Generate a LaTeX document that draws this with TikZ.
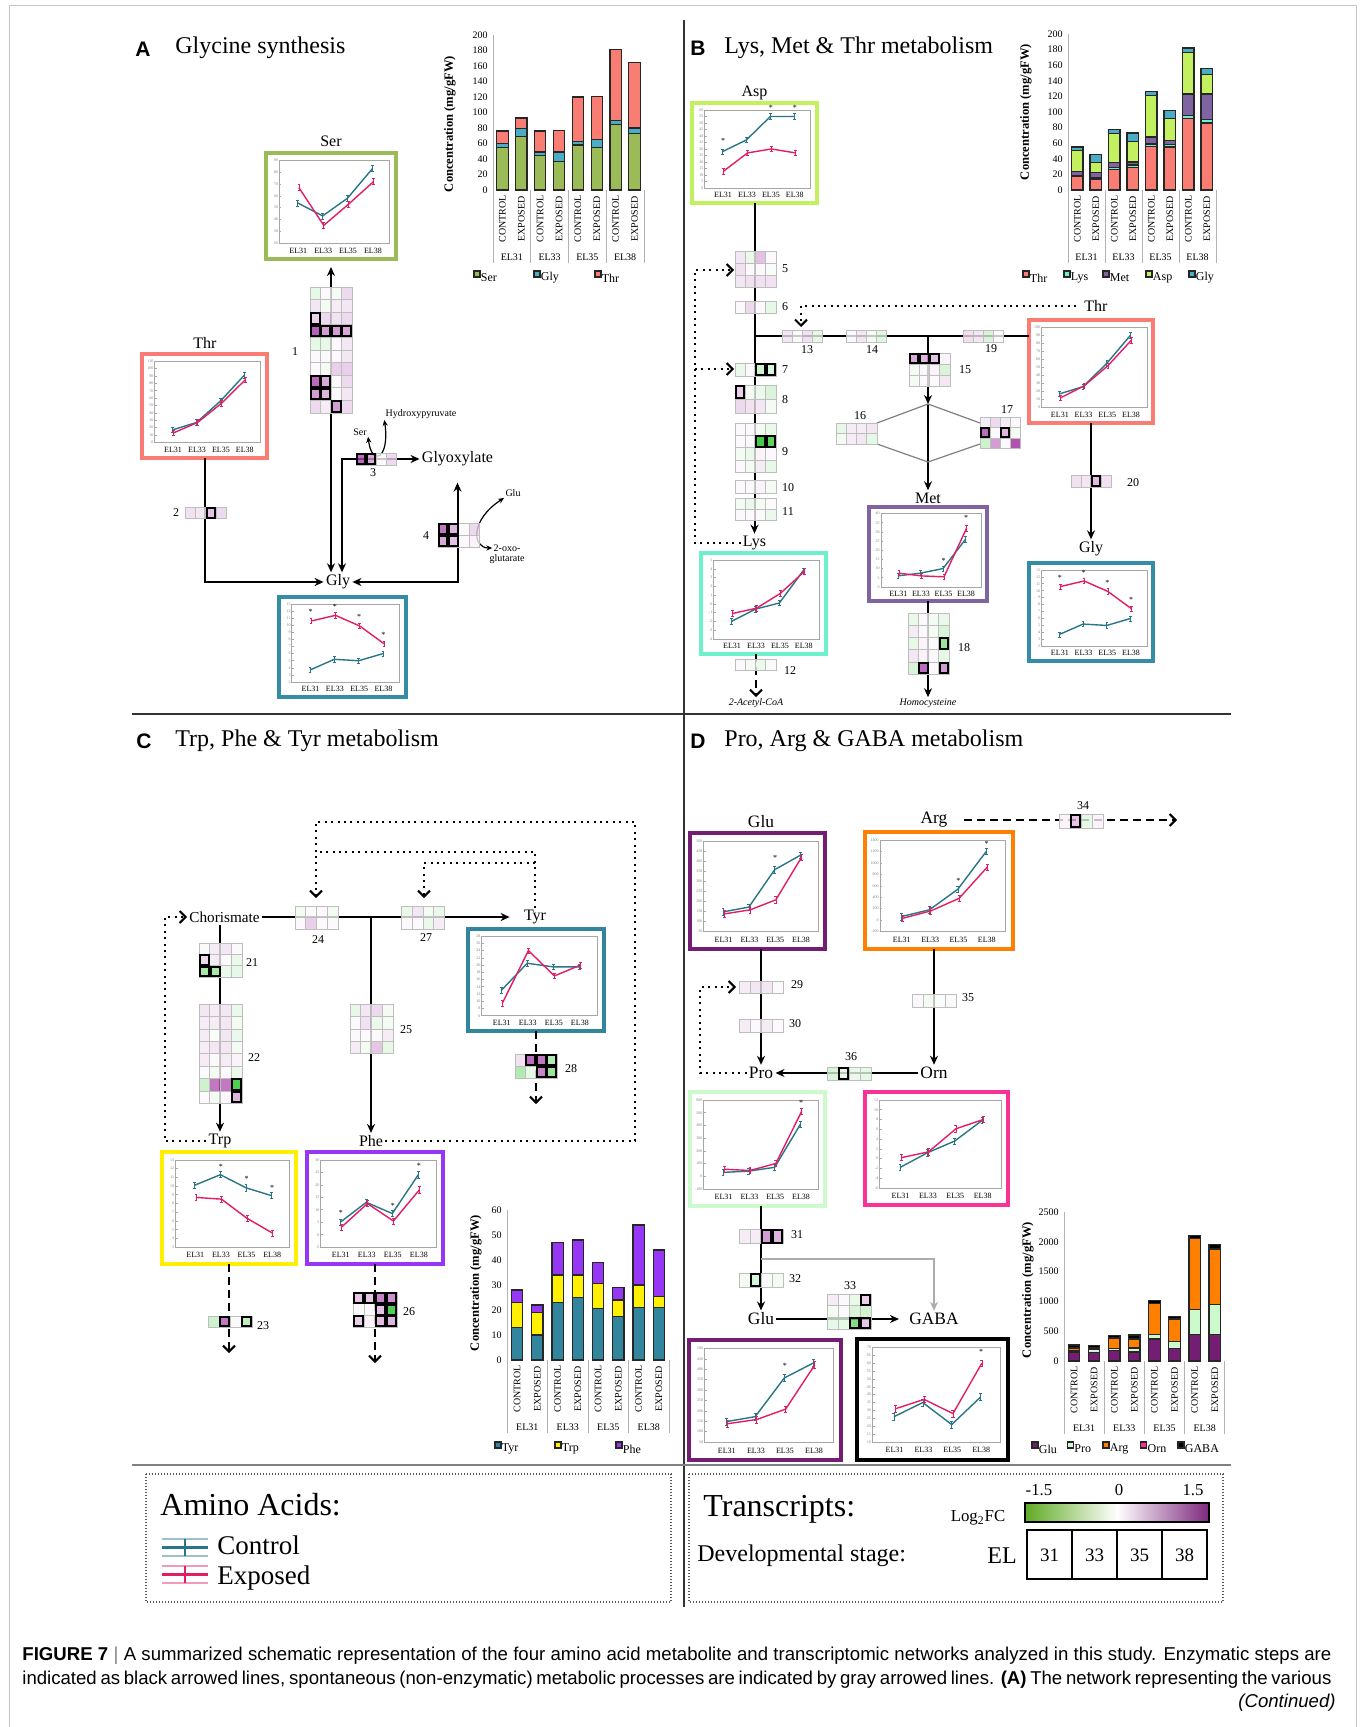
\documentclass[tikz,border=0pt]{standalone}
\usepackage{fontspec}
\setmainfont{Liberation Serif}
\newfontfamily\panelfont{Liberation Sans}
\usetikzlibrary{arrows.meta}

\definecolor{serc}{RGB}{155,187,89}
\definecolor{glyc}{RGB}{75,172,198}
\definecolor{glyframe}{RGB}{52,140,165}
\definecolor{thrc}{RGB}{250,125,115}
\definecolor{aspc}{RGB}{195,240,95}
\definecolor{lysc}{RGB}{110,240,205}
\definecolor{metc}{RGB}{128,100,162}
\definecolor{tyrc}{RGB}{49,133,156}
\definecolor{trpc}{RGB}{255,240,0}
\definecolor{phec}{RGB}{150,55,245}
\definecolor{gluc}{RGB}{115,30,115}
\definecolor{proc}{RGB}{205,250,205}
\definecolor{argc}{RGB}{255,128,0}
\definecolor{ornc}{RGB}{250,50,150}
\definecolor{ctrlc}{RGB}{40,118,135}
\definecolor{expc}{RGB}{225,30,100}
\definecolor{hpos}{RGB}{150,25,150}
\definecolor{hneg}{RGB}{20,190,20}
\definecolor{gradneg}{RGB}{95,170,35}
\definecolor{gradpos}{RGB}{125,40,125}
\definecolor{cellgray}{RGB}{190,190,190}

% helpers for the small line charts
\def\getbox#1/#2/#3/#4\relax{\def\bxl{#1}\def\bxt{#2}\def\bxr{#3}\def\bxb{#4}}
\def\getyr#1/#2/#3\relax{\def\ymn{#1}\def\ymx{#2}\def\ystp{#3}}

\newcommand{\series}[3]{%
  \foreach \sv [count=\sk] in {#1} {
    \pgfmathsetmacro{\sx}{#2+0.225*(\sk-1)}
    \coordinate (sp\sk) at (\sx,\sv);
    \draw[#3, line width=0.3pt] (\sx-0.012,\sv-\eb) -- (\sx+0.012,\sv-\eb)
      (\sx,\sv-\eb) -- (\sx,\sv+\eb) (\sx-0.012,\sv+\eb) -- (\sx+0.012,\sv+\eb);
  }
  \draw[#3] (sp1) -- (sp2) -- (sp3) -- (sp4);
}

% name, box l/t/r/b, frame colour, ymin/ymax/step, control, exposed, stars
\newcommand{\lchart}[7]{%
  \getbox#2\relax\getyr#4\relax
  \pgfmathsetmacro{\bw}{0.5*(\bxr-\bxl)}
  \pgfmathsetmacro{\bh}{0.5*(\bxb-\bxt)}
  \node[chartbox, draw=#3, minimum width=\bw pt, minimum height=\bh pt]
    (#1) at ({(\bxl+\bxr)/2},{(\bxt+\bxb)/2}) {};
  \pgfmathsetmacro{\pl}{\bxl+0.1*(\bxr-\bxl)}
  \pgfmathsetmacro{\pr}{\bxr-0.05*(\bxr-\bxl)}
  \pgfmathsetmacro{\ptp}{\bxt+0.07*(\bxb-\bxt)}
  \pgfmathsetmacro{\pbt}{\bxb-0.15*(\bxb-\bxt)}
  \draw[plotframe] (\pl,\ptp) rectangle (\pr,\pbt);
  \foreach \el [count=\ek] in {EL31,EL33,EL35,EL38}
    \node[ellab] at ({\pl+(0.175+0.225*(\ek-1))*(\pr-\pl)},{\pbt+0.07*(\bxb-\bxt)}) {\el};
  \pgfmathsetmacro{\xu}{0.5*(\pr-\pl)}
  \pgfmathsetmacro{\yu}{0.5*(\pbt-\ptp)/(\ymx-\ymn)}
  \pgfmathsetmacro{\ysec}{\ymn+\ystp}
  \pgfmathsetmacro{\eb}{0.035*(\ymx-\ymn)}
  \begin{scope}[shift={(\pl,\pbt)}, x=\xu pt, y=\yu pt, shift={(0,{0-(\ymn)})}]
    \foreach \tk in {\ymn,\ysec,...,\ymx} {
      \pgfmathtruncatemacro{\tlab}{round(\tk)}
      \draw[plotframe] (0,\tk) -- (0.02,\tk);
      \node[ticklab] at (0,\tk) {\tlab};
    }
    \series{#5}{0.17}{ctrlline}
    \series{#6}{0.18}{expline}
    \foreach \sk/\sv in {#7} {
      \ifnum\sk>0 \node[starlab] at ({0.175+0.225*(\sk-1)},\sv) {*};\fi
    }
  \end{scope}
}

% heat map: x, y, cell width, cell height, rows (bold cell = value+10)
\newcommand{\hmap}[5]{%
  \foreach \hrow [count=\hr] in {#5} {
    \foreach \hv [count=\hc] in \hrow {
      \pgfmathsetmacro{\vv}{\hv>5 ? \hv-10 : \hv}
      \pgfmathtruncatemacro{\pc}{min(100,abs(\vv)*66.7)}
      \pgfmathtruncatemacro{\sg}{\vv<0 ? 1 : 0}
      \ifnum\sg=1 \colorlet{cellc}{hneg!\pc!white}\else\colorlet{cellc}{hpos!\pc!white}\fi
      \draw[hcell, fill=cellc] ({#1+(\hc-1)*#3},{#2+(\hr-1)*#4}) rectangle ++(#3,#4);
    }
  }
  \foreach \hrow [count=\hr] in {#5} {
    \foreach \hv [count=\hc] in \hrow {
      \pgfmathtruncatemacro{\isb}{\hv>5 ? 1 : 0}
      \ifnum\isb=1 \draw[hbold] ({#1+(\hc-1)*#3+0.9},{#2+(\hr-1)*#4+0.9}) rectangle ++({#3-1.8},{#4-1.8});\fi
    }
  }
}

% stacked bar charts
\newcommand{\barbase}[6]{%
  \draw[baraxis] (#1,#2) -- (#1,{#2-#5*#4});
  \foreach \tk in {0,#6,...,#5}
    \node[barlab, anchor=east] at ({#1-4},{#2-\tk*#4}) {\tk};
  \foreach \gi in {0,...,4}
    \draw[baraxis] ({#1+\gi*#3},#2) -- ({#1+\gi*#3},{#2+73});
  \foreach \gl [count=\gi] in {EL31,EL33,EL35,EL38} {
    \node[barlab, rotate=90] at ({#1+(\gi-0.75)*#3},{#2+29}) {CONTROL};
    \node[barlab, rotate=90] at ({#1+(\gi-0.25)*#3},{#2+29}) {EXPOSED};
    \node[barlab] at ({#1+(\gi-0.5)*#3},{#2+67}) {\gl};
  }
}
\newcommand{\bars}[5]{%
  \foreach \bdat [count=\bj] in {#5} {
    \foreach \tp/\cl [remember=\tp as \lastp (initially 0)] in \bdat {
      \draw[barseg, fill=\cl] ({#1+(\bj-0.5)*#3/2-5.7},{#2-\lastp*#4}) rectangle ({#1+(\bj-0.5)*#3/2+5.7},{#2-\tp*#4});
    }
  }
}

\begin{document}
\begin{tikzpicture}[x=0.5pt,y=-0.5pt]
  \tikzstyle{plabel}=[font=\panelfont\bfseries\fontsize{10.5}{12}\selectfont, inner sep=0pt]
  \tikzstyle{ptitle}=[font=\fontsize{12}{14}\selectfont, inner sep=0pt]
  \tikzstyle{metab}=[font=\fontsize{8}{9}\selectfont, inner sep=1pt]
  \tikzstyle{metabC}=[font=\fontsize{7.6}{9}\selectfont, inner sep=1pt]
  \tikzstyle{metabD}=[font=\fontsize{8.7}{10}\selectfont, inner sep=1pt]
  \tikzstyle{genel}=[font=\fontsize{6}{7}\selectfont, inner sep=0pt]
  \tikzstyle{small}=[font=\fontsize{5}{6}\selectfont, inner sep=0.5pt]
  \tikzstyle{smallit}=[font=\itshape\fontsize{5}{6}\selectfont, inner sep=0.5pt]
  \tikzstyle{enz}=[line width=1pt, >={Stealth[length=4.5pt,width=4pt]}]
  \tikzstyle{enzthin}=[line width=0.6pt, >={Stealth[length=3pt,width=2.6pt]}]
  \tikzstyle{nonenz}=[enz, draw=gray!65]
  \tikzstyle{spont}=[line width=1pt, dash pattern=on 1pt off 2.2pt, >={Straight Barb[length=3pt]}]
  \tikzstyle{dashedarr}=[line width=1pt, dash pattern=on 4pt off 2.5pt, >={Straight Barb[length=3pt]}]
  \tikzstyle{chartbox}=[inner sep=0pt, outer sep=0pt, line width=1.8pt, fill=white]
  \tikzstyle{plotframe}=[draw=gray!70, line width=0.3pt]
  \tikzstyle{ellab}=[font=\fontsize{4}{4}\selectfont, inner sep=0pt]
  \tikzstyle{ticklab}=[font=\fontsize{2}{2}\selectfont, inner sep=0.4pt, anchor=east, text=gray]
  \tikzstyle{ctrlline}=[draw=ctrlc, line width=0.7pt]
  \tikzstyle{expline}=[draw=expc, line width=0.7pt]
  \tikzstyle{starlab}=[font=\fontsize{4}{4}\selectfont, inner sep=0pt, anchor=south]
  \tikzstyle{hcell}=[draw=cellgray, line width=0.3pt, fill opacity=0.8]
  \tikzstyle{hbold}=[draw=black, line width=1pt]
  \tikzstyle{baraxis}=[draw=gray!60, line width=0.5pt]
  \tikzstyle{barlab}=[font=\fontsize{5}{6}\selectfont, inner sep=0.5pt]
  \tikzstyle{barseg}=[draw=black!85, line width=0.6pt]
  \tikzstyle{barleg}=[font=\fontsize{6}{7}\selectfont, inner sep=0.5pt]
  \tikzstyle{bartitle}=[font=\bfseries\fontsize{6.3}{7}\selectfont, inner sep=0pt]
  \tikzstyle{legbox}=[line width=0.6pt, dash pattern=on 0.5pt off 1pt, draw=gray!70!black]
  \tikzstyle{legtitle}=[font=\fontsize{16}{18}\selectfont, inner sep=0pt]
  \tikzstyle{legtext}=[font=\fontsize{12}{14}\selectfont, inner sep=0pt]
  \tikzstyle{legsmall}=[font=\fontsize{8.4}{10}\selectfont, inner sep=0pt]
  \tikzstyle{capt}=[font=\panelfont\fontsize{9.3}{12}\selectfont, inner sep=0pt]
  \tikzstyle{divider}=[draw=black!80, line width=0.7pt]

  \useasboundingbox (0,0) rectangle (1365,1727);
  \fill[white] (0,0) rectangle (1365,1727);
  \draw[gray!45, line width=0.5pt] (9,1727) -- (9,6) -- (1356,6) -- (1356,1727);

  %dividers
  \draw[divider] (684,20) -- (684,1607);
  \draw[divider] (132,714) -- (1231,714);
  \draw[gray, line width=1.2pt] (132,1465) -- (1231,1465);

  %panel_A
  \node[plabel] (labA) at (143,49) {A};
  \node[ptitle, anchor=west] (titA) at (175,48) {Glycine synthesis};

  \barbase{493}{190}{37.75}{0.775}{200}{20}
  \bars{493}{190}{37.75}{0.775}{{55/serc,60/glyc,76/thrc},{69/serc,79/glyc,93/thrc},{44/serc,49/glyc,76/thrc},{37/serc,49/glyc,77/thrc},{58/serc,63/glyc,120/thrc},{55/serc,65/glyc,121/thrc},{85/serc,90/glyc,181/thrc},{73/serc,80/glyc,165/thrc}}
  \node[bartitle, rotate=90] (ytA) at (450,124) {Concentration (mg/gFW)};
  \foreach \lx/\cl/\nm in {474/serc/Ser,534/glyc/Gly,595/thrc/Thr} {
    \draw[barseg, fill=\cl] (\lx,271) rectangle +(6,6);
    \node[barleg, anchor=west] at (\lx+5.5,278) {\nm};
  }

  \node[metab] (serA) at (331,141) {Ser};
  \lchart{serbox}{266/153/396/259}{serc}{20/90/10}{54,43,58,83}{67,35,53,72}{0/0}
  \node[metab] (thrA) at (205,343) {Thr};
  \lchart{thrboxA}{142/354/267/458}{thrc}{0/110/10}{17,27,56,91}{13,27,53,85}{0/0}
  \node[metab] (glyA) at (338,582) {Gly};
  \lchart{glyboxA}{279/597/406/697}{glyframe}{2/13/1}{3.7,5.2,5.0,6.0}{10.6,11.4,9.9,7.4}{1/11.4,2/12.2,3/10.7,4/8.2}
  \node[metab] (glx) at (457.5,459) {Glyoxylate};
  \coordinate (g3turn) at (342,459);

  \draw[enz,<->, shorten <=4pt] (serbox.south) -- (serbox.south |- glyA.north);
  \draw[enz,<->] (glx.west) -- (g3turn) -- (g3turn |- glyA.north);
  \draw[enz,->] (thrboxA.south) |- (glyA.west);
  \draw[enz,<->, shorten <=7pt] (glx.south) |- (glyA.east);

  \node[small] (serS) at (360,432) {Ser};
  \node[small] (hpyr) at (421,414) {Hydroxypyruvate};
  \draw[enzthin,<->] (serS.south east) .. controls (372,468) and (390,458) .. (hpyr.south west);
  \node[small] (gluS) at (513,493) {Glu};
  \node[small] (oxo1) at (507,548) {2-oxo-};
  \node[small] (oxo2) at (507,559) {glutarate};
  \draw[enzthin,<->] (gluS.south west) .. controls (470,520) and (472,548) .. (oxo1.west);

  %genes_A
  \hmap{310}{287}{10.5}{12.6}{{-0.2,0.05,-0.1,0.3},{0.2,-0.1,0.15,0.2},{10.35,0.3,0.25,0.3},{11.3,10.8,10.8,10.7},{-0.2,-0.2,0.05,0.2},{0.05,0.05,0.05,0.2},{0.05,-0.1,0.4,0.4},{11.2,10.7,0.05,0.3},{10.8,10.6,0.05,0.2},{0.3,0.15,10.8,0.3}}
  \node[genel] (n1) at (295,352) {1};
  \hmap{185}{507}{10.3}{11.5}{{0.25,0.2,10.5,0.3}}
  \node[genel] (n2) at (176,513) {2};
  \hmap{356}{453}{10}{12}{{11.2,10.7,0.05,0.3}}
  \node[genel] (n3) at (373,473) {3};
  \hmap{438}{523}{10.3}{12}{{11.1,10.6,0.05,0.3},{10.7,10.5,0.05,0.1}}
  \node[genel] (n4) at (426,536) {4};

  %panel_B
  \node[plabel] (labB) at (698,48) {B};
  \node[ptitle, anchor=west] (titB) at (724,48) {Lys, Met \& Thr metabolism};

  \barbase{1068}{190}{37}{0.78}{200}{20}
  \bars{1068}{190}{37}{0.78}{{17/thrc,19/lysc,24/metc,51/aspc,55/glyc},{14/thrc,16/lysc,22/metc,35/aspc,46/glyc},{26/thrc,29/lysc,35/metc,72/aspc,78/glyc},{29/thrc,32/lysc,36/metc,62/aspc,73/glyc},{56/thrc,59/lysc,68/metc,121/aspc,126/glyc},{55/thrc,58/lysc,63/metc,92/aspc,102/glyc},{92/thrc,96/lysc,123/metc,176/aspc,182/glyc},{86/thrc,90/lysc,123/metc,148/aspc,156/glyc}}
  \node[bartitle, rotate=90] (ytB) at (1026,112) {Concentration (mg/gFW)};
  \foreach \lx/\cl/\nm in {1023/thrc/Thr,1064/lysc/Lys,1103/metc/Met,1146/aspc/Asp,1189/glyc/Gly} {
    \draw[barseg, fill=\cl] (\lx,271) rectangle +(6,6);
    \node[barleg, anchor=west] at (\lx+5.5,278) {\nm};
  }

  \node[metab] (aspB) at (754.5,93) {Asp};
  \lchart{aspbox}{692/103/817/203}{aspc}{0/60/5}{28,37,55,55}{13,27,30,27}{1/34,3/59,4/59}
  \node[metab] (lysB) at (754.5,543) {Lys};
  \lchart{lysbox}{701/553/826/654}{lysc}{-4/5/1}{-2,-0.6,0.1,3.8}{-1.1,-0.5,1.2,3.7}{0/0}
  \node[metab] (thrB) at (1096,306) {Thr};
  \lchart{thrboxB}{1029/320/1153/423}{thrc}{0/100/10}{17,26,55,90}{12,27,52,84}{0/0}
  \node[metab] (metB) at (928,498) {Met};
  \lchart{metbox}{869/507/987/601}{metc}{0/40/5}{6,7.5,10,26}{7.5,6,5.5,32}{3/12.5,4/36}
  \node[metab] (glyB) at (1091,549) {Gly};
  \lchart{glyboxB}{1029/563/1153/661}{glyframe}{2/13/1}{3.7,5.2,5.0,6.0}{10.6,11.4,9.9,7.4}{1/11.4,2/12.2,3/10.7,4/8.2}
  \node[smallit] (acoa) at (756,703) {2-Acetyl-CoA};
  \node[smallit] (hcys) at (928,703) {Homocysteine};

  \coordinate (bj13) at (754.5,336);
  \coordinate (bj15) at (928,336);
  \coordinate (diat) at (928,404);
  \coordinate (diab) at (928,462);
  \draw[enz,->] (aspbox.south) -- (lysB.north);
  \draw[enz] (bj13) -- (bj13 -| thrboxB.west);
  \draw[enz,->] (bj15) -- (diat);
  \draw[enz,->] (diat) -- (metB.north);
  \draw[gray, line width=0.6pt] (877,423) -- (diat) -- (980,423);
  \draw[gray, line width=0.6pt] (877,444) -- (diab) -- (980,444);
  \draw[enz,->] (thrboxB.south) -- (glyB.north);
  \draw[enz,->] (metbox.south) -- (hcys.north);
  \draw[dashedarr,->] (lysbox.south -| acoa.north) -- (acoa.north);
  \draw[spont,->] (lysB.west) -| (695,270) -- (734,270);
  \draw[spont,->] (695,369) -- (734,369);
  \draw[spont,->, shorten <=3pt] (thrB.west) -| (801,327);

  %genes_B
  \hmap{735}{251}{10.2}{12}{{0.2,-0.15,0.5,0.05},{0.25,0.05,0.05,-0.05},{0.2,0.25,0.25,0.25}}
  \node[genel] (n5) at (785,269) {5};
  \hmap{735}{301}{10.2}{12}{{0.05,0.3,0.05,-0.2}}
  \node[genel] (n6) at (785,307) {6};
  \hmap{735}{363}{10.2}{13}{{-0.15,0.05,9.6,9.7}}
  \node[genel] (n7) at (785,370) {7};
  \hmap{735}{385}{10.2}{14}{{10.4,-0.1,-0.15,-0.3},{0.3,0.25,0.2,-0.1}}
  \node[genel] (n8) at (785,400) {8};
  \hmap{735}{423}{10.2}{12.4}{{0.05,0.05,-0.1,-0.15},{0.05,0.05,8.5,8.7},{-0.1,-0.15,0.1,0.05},{0.05,-0.1,0.15,-0.2}}
  \node[genel] (n9) at (785,452) {9};
  \hmap{735}{480}{10.2}{13}{{0.05,0.05,0.1,-0.1}}
  \node[genel] (n10) at (788,488) {10};
  \hmap{735}{498}{10.2}{11}{{-0.1,-0.15,-0.1,0.05},{0.05,0.05,0.05,-0.15}}
  \node[genel] (n11) at (788,512) {11};
  \hmap{735}{659}{10.2}{11}{{0.05,-0.1,-0.15,0.05}}
  \node[genel] (n12) at (790,671) {12};
  \hmap{782}{330}{10}{12}{{0.2,-0.05,0.25,-0.2}}
  \node[genel] (n13) at (807,350) {13};
  \hmap{846}{330}{10}{12}{{0.05,0.2,-0.1,-0.25}}
  \node[genel] (n14) at (872,350) {14};
  \hmap{963}{330}{10}{12}{{0.25,0.2,-0.3,0.05}}
  \node[genel] (n19) at (991,349) {19};
  \hmap{909}{353}{10.2}{11}{{10.7,10.6,10.5,0.1},{-0.1,0.05,0.1,-0.3},{-0.1,0.05,0.05,0.2}}
  \node[genel] (n15) at (965,370) {15};
  \hmap{836}{423}{10.2}{10.5}{{-0.2,0.15,0.15,0.2},{-0.1,0.15,0.2,-0.2}}
  \node[genel] (n16) at (860,416) {16};
  \hmap{980}{417}{10}{10.5}{{0.15,0.3,0.15,0.05},{11.2,0.05,10.6,-0.1},{-0.4,0.8,0.05,1.4}}
  \node[genel] (n17) at (1007,410) {17};
  \hmap{908}{613}{10.2}{12.2}{{-0.15,0.05,-0.1,-0.15},{0.15,0.05,-0.1,-0.3},{-0.2,0.1,0.05,9.2},{0.2,0.1,0.05,-0.2},{-0.3,11.2,0.05,10.8}}
  \node[genel] (n18) at (964,648) {18};
  \hmap{1071}{475}{10}{12}{{0.25,0.2,10.55,0.25}}
  \node[genel] (n20) at (1133,483) {20};

  %panel_C
  \node[plabel] (labC) at (144,741) {C};
  \node[ptitle, anchor=west] (titC) at (175,741) {Trp, Phe \& Tyr metabolism};

  \node[metabC] (chor) at (224.5,917) {Chorismate};
  \node[metab] (tyrC) at (535,917) {Tyr};
  \node[metab] (trpC) at (220,1141) {Trp};
  \node[metab] (pheC) at (371,1141) {Phe};
  \coordinate (cj25) at (371,917);
  \coordinate (tyrloop) at (535,863);
  \draw[enz,->, shorten >=6pt] (chor.east) -- (tyrC.west);
  \draw[enz,->] (chor.south -| trpC.north) -- (trpC.north);
  \draw[enz,->] (cj25) -- (pheC.north);
  \draw[spont,->] (trpC.west) -| (165,917) -- (chor.west);
  \draw[spont,->] (pheC.east) -| (635,822) -| (316,898);
  \draw[spont] (tyrC.north) |- (316,852);
  \draw[spont,->] (tyrloop) -| (424,898);

  \lchart{tyrbox}{468/929/604/1031}{tyrc}{6/28/2}{13,20.5,19.5,19.5}{9.5,24,17,20}{0/0}
  \lchart{trpbox}{162/1152/296/1264}{trpc}{3/13/1}{10.1,11.3,9.8,8.9}{8.7,8.5,6.3,4.6}{2/11.9,3/10.5,4/9.5}
  \lchart{phebox}{307/1152/443/1264}{phec}{-5/30/5}{5,13,8.5,24}{3,12.5,5.5,18}{1/7.5,3/10.5,4/26.5}
  \coordinate (tyrend) at (536,1104);
  \coordinate (trpend) at (229,1353);
  \coordinate (pheend) at (375,1363);
  \draw[dashedarr,->] (tyrbox.south) -- (tyrend);
  \draw[dashedarr,->] (trpbox.south) -- (trpend);
  \draw[dashedarr,->] (phebox.south) -- (pheend);

  %genes_C
  \hmap{199}{943}{10.75}{11.3}{{0.05,0.15,0.2,0.05},{10.3,0.15,0.05,-0.15},{9.3,9.3,-0.15,-0.2}}
  \node[genel] (n21) at (252,963) {21};
  \hmap{199}{1004}{10.75}{12.4}{{0.2,0.15,0.2,-0.15},{0.15,0.15,0.2,-0.1},{0.15,-0.05,0.2,-0.15},{0.15,0.2,0.2,-0.1},{0.15,0.05,0.15,0.1},{0.05,-0.1,0.05,-0.15},{-0.4,1.1,1.1,8.6},{0.05,-0.1,0.05,10.6}}
  \node[genel] (n22) at (254,1058) {22};
  \hmap{295}{906}{10.75}{11.5}{{-0.1,0.05,0.05,-0.1},{0.05,0.4,0.05,0.05}}
  \node[genel] (n24) at (318,940) {24};
  \hmap{401}{906}{10.9}{11.5}{{-0.15,0.2,-0.1,-0.15},{0.05,0.05,-0.15,0.15}}
  \node[genel] (n27) at (426,938) {27};
  \hmap{350}{1004}{10.75}{12.4}{{-0.2,0.2,0.3,-0.1},{0.05,0.25,-0.15,-0.1},{0.05,0.05,0.05,0.15},{0.15,-0.1,0.45,-0.2}}
  \node[genel] (n25) at (406,1030) {25};
  \hmap{515}{1054}{10.5}{12}{{0.25,11.2,11.1,9.4},{-0.6,-0.2,11.0,9.2}}
  \node[genel] (n28) at (571,1069) {28};
  \hmap{208}{1316}{11}{11}{{-0.4,11.1,0.05,9.5}}
  \node[genel] (n23) at (263,1326) {23};
  \hmap{353}{1292}{11}{11.7}{{10.45,10.45,11.0,10.9},{0.05,0.05,10.5,8.6},{10.4,0.1,10.55,10.6}}
  \node[genel] (n26) at (409,1312) {26};

  \barbase{507}{1360}{40.5}{2.5}{60}{10}
  \bars{507}{1360}{40.5}{2.5}{{13/tyrc,23/trpc,28/phec},{10/tyrc,19/trpc,22/phec},{23/tyrc,34/trpc,47/phec},{25/tyrc,34/trpc,48/phec},{20.5/tyrc,30.5/trpc,39/phec},{17.5/tyrc,24/trpc,29/phec},{21/tyrc,30/trpc,54/phec},{21/tyrc,25.5/trpc,44/phec}}
  \node[bartitle, rotate=90] (ytC) at (476,1283) {Concentration (mg/gFW)};
  \foreach \lx/\cl/\nm in {495/tyrc/Tyr,555/trpc/Trp,616/phec/Phe} {
    \draw[barseg, fill=\cl] (\lx,1442) rectangle +(6,6);
    \node[barleg, anchor=west] at (\lx+5.5,1449) {\nm};
  }

  %panel_D
  \node[plabel] (labD) at (698,741) {D};
  \node[ptitle, anchor=west] (titD) at (724,741) {Pro, Arg \& GABA metabolism};

  \node[metabD] (gluD1) at (761,822) {Glu};
  \node[metabD] (argD) at (934,820) {Arg};
  \node[metabD] (proD) at (761,1073) {Pro};
  \node[metabD] (ornD) at (934,1073) {Orn};
  \node[metabD] (gluD2) at (761,1319) {Glu};
  \node[metabD] (gabaD) at (934,1319) {GABA};
  \lchart{glubox1}{690/833/825/949}{gluc}{50/500/50}{148,172,358,430}{138,158,208,420}{3/400}
  \lchart{argbox}{865/832/1013/949}{argc}{-200/1400/200}{60,180,540,1200}{30,160,380,930}{3/630,4/1290}
  \lchart{probox}{690/1092/825/1206}{proc}{-100/600/100}{30,40,70,410}{55,45,100,510}{4/555}
  \lchart{ornbox}{865/1092/1008/1205}{ornc}{-6/12/2}{-1.8,1.2,3.6,7.8}{0.2,1.4,6.1,8}{0/0}
  \lchart{glubox2}{689/1340/841/1460}{gluc}{50/500/50}{148,172,358,430}{138,158,208,420}{3/400}
  \lchart{gababox}{857/1339/1008/1460}{black}{10/70/5}{26,35,21,38.5}{31,37,28,60}{4/65}

  \coordinate (argend) at (1177,820);
  \coordinate (gabj) at (761,1259);
  \draw[dashedarr,->, shorten <=7pt] (argD.east) -- (argend);
  \draw[enz,->] (glubox1.south -| proD.north) -- (proD.north);
  \draw[spont,->] (proD.west) -| (700,987) -- (736,987);
  \draw[enz,->] (argbox.south -| ornD.north) -- (ornD.north);
  \draw[enz,->] (ornD.west) -- (proD.east);
  \draw[enz,->] (probox.south -| gluD2.north) -- (gluD2.north);
  \draw[nonenz,->] (gabj) -| (gabaD.north);
  \draw[enz,->, shorten >=4pt] (gluD2.east) -- (gabaD.west);

  %genes_D
  \hmap{739}{981}{11}{12}{{0.15,0.2,0.2,0.05}}
  \node[genel] (n29) at (797,985) {29};
  \hmap{739}{1019}{11}{13}{{0.15,0.05,0.15,0.05}}
  \node[genel] (n30) at (795,1024) {30};
  \hmap{912}{994}{11}{13}{{0.05,-0.1,-0.05,0.05}}
  \node[genel] (n35) at (968,998) {35};
  \hmap{827}{1067}{11}{13}{{-0.3,9.8,-0.15,-0.2}}
  \node[genel] (n36) at (851,1057) {36};
  \hmap{1059}{814}{11}{14}{{0.1,10.45,-0.2,0.1}}
  \node[genel] (n34) at (1083,806) {34};
  \hmap{739}{1229}{11}{14.5}{{0.15,0.15,10.8,10.6}}
  \node[genel] (n31) at (797,1235) {31};
  \hmap{739}{1273}{11}{14}{{-0.1,9.7,0.05,-0.1}}
  \node[genel] (n32) at (795,1279) {32};
  \hmap{827}{1294}{11}{11.7}{{0.15,0.05,-0.15,10.4},{-0.1,0.05,-0.3,-0.35},{-0.2,-0.2,9.0,10.45}}
  \node[genel] (n33) at (850,1286) {33};

  \barbase{1064}{1361}{40.2}{0.0596}{2500}{500}
  \bars{1064}{1361}{40.2}{0.0596}{{150/gluc,180/proc,220/argc,230/ornc,270/black},{140/gluc,200/proc,220/argc,225/ornc,260/black},{170/gluc,210/proc,380/argc,385/ornc,430/black},{150/gluc,220/proc,370/argc,375/ornc,435/black},{370/gluc,450/proc,960/argc,970/ornc,1020/black},{210/gluc,330/proc,700/argc,705/ornc,750/black},{440/gluc,860/proc,2050/argc,2060/ornc,2100/black},{440/gluc,950/proc,1870/argc,1880/ornc,1950/black}}
  \node[bartitle, rotate=90] (ytD) at (1028,1290) {Concentration (mg/gFW)};
  \foreach \lx/\cl/\nm in {1032/gluc/Glu,1067.5/proc/Pro,1103/argc/Arg,1140.7/ornc/Orn,1178/black/GABA} {
    \draw[barseg, fill=\cl] (\lx,1442) rectangle +(6,6);
    \node[barleg, anchor=west] at (\lx+5.5,1449) {\nm};
  }

  %legend_left
  \draw[legbox] (146,1474) rectangle (671,1602);
  \node[legtitle, anchor=west] (aa) at (160,1505) {Amino Acids:};
  \draw[ctrlc!45, line width=0.9pt] (162,1539) -- (208,1539) (162,1556) -- (208,1556);
  \draw[ctrlc, line width=1.5pt] (162,1547) -- (208,1547);
  \draw[ctrlc, line width=0.8pt] (185,1539) -- (185,1556);
  \node[legtext, anchor=west, font=\fontsize{13.5}{15}\selectfont] (ctl) at (217,1545) {Control};
  \draw[expc!45, line width=0.9pt] (162,1566) -- (208,1566) (162,1583) -- (208,1583);
  \draw[expc, line width=1.5pt] (162,1574) -- (208,1574);
  \draw[expc, line width=0.8pt] (185,1566) -- (185,1583);
  \node[legtext, anchor=west, font=\fontsize{13.5}{15}\selectfont] (exq) at (217,1578) {Exposed};

  %legend_right
  \draw[legbox] (689,1474) rectangle (1223,1602);
  \node[legtitle, anchor=west] (trs) at (703,1509) {Transcripts:};
  \shade[left color=gradneg, right color=gradpos, middle color=white] (1025,1503) rectangle (1209,1522);
  \draw[line width=0.7pt] (1025,1503) rectangle (1209,1522);
  \node[legsmall] (gm) at (1039,1490) {-1.5};
  \node[legsmall] (g0) at (1119,1490) {0};
  \node[legsmall] (gp) at (1193,1490) {1.5};
  \node[legsmall] (lfc) at (978,1518) {Log\textsubscript{2}FC};
  \foreach \ei/\en in {0/31,1/33,2/35,3/38} {
    \draw[line width=0.7pt] ({1027+45*\ei},1530) rectangle +(45,49);
    \node[legsmall, font=\fontsize{9.5}{11}\selectfont] at ({1049.5+45*\ei},1555) {\en};
  }
  \node[legtext] (elt) at (1002,1556) {EL};
  \node[legtext, anchor=west] (dev) at (697,1556) {Developmental stage:};

  %caption
  \node[capt, anchor=west] (cap1) at (22,1656) {\makebox[654.5pt][s]{\textbf{FIGURE 7} \textcolor{gray}{|} A summarized schematic representation of the four amino acid metabolite and transcriptomic networks analyzed in this study. Enzymatic steps are}};
  \node[capt, anchor=west] (cap2) at (22,1680) {\makebox[654.5pt][s]{indicated as black arrowed lines, spontaneous (non-enzymatic) metabolic processes are indicated by gray arrowed lines. \textbf{(A)} The network representing the various}};
  \node[capt, anchor=east] (cap3) at (1336,1703) {\textit{(Continued)}};
\end{tikzpicture}
\end{document}
